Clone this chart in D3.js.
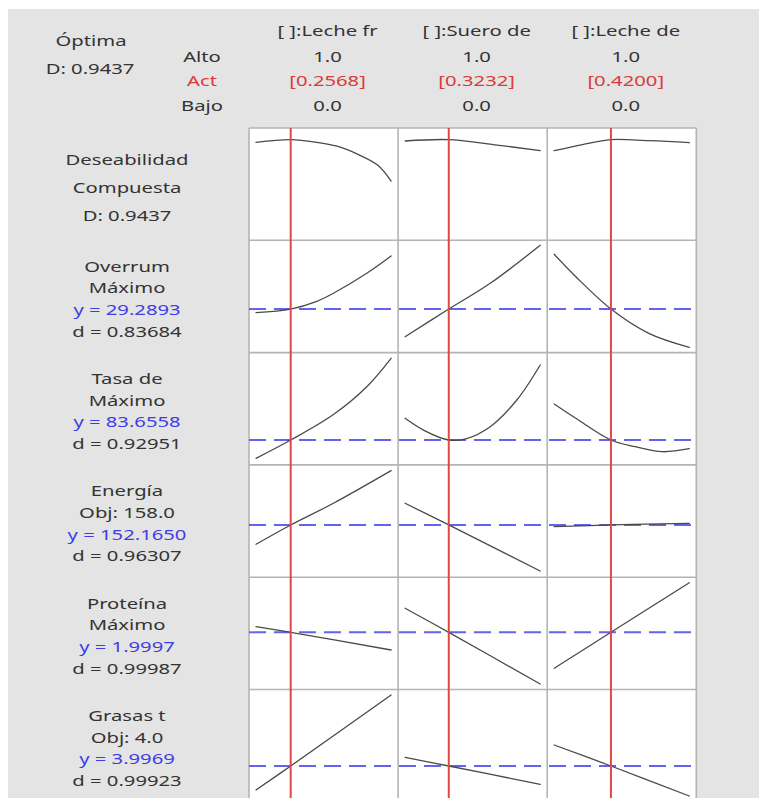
<!DOCTYPE html>
<html>
<head>
<meta charset="utf-8">
<script src="https://cdn.jsdelivr.net/npm/d3@7"></script>
<style>
  html, body { margin: 0; padding: 0; background: #ffffff; }
  svg { display: block; }
  text { font-family: "Noto Sans", "Open Sans", sans-serif; }
</style>
</head>
<body>
<svg id="chart" width="759" height="798"></svg>
<script>
// ---- Factors (mixture components) ----
const factorNames = ["[ ]:Leche fr", "[ ]:Suero de", "[ ]:Leche de"];
const factorHigh = [1.0, 1.0, 1.0];
const factorLow = [0.0, 0.0, 0.0];
const factorCurrent = [0.2568, 0.3232, 0.4200];

// ---- Composite desirability ----
const compositeD = 0.9437;
const compositeDomain = [0, 1];
// trace of D along each component (component proportion, D)
const compositeTrace = [
  [[0, 0.917], [0.2568, 0.9437], [0.45, 0.917], [0.6, 0.878], [0.75, 0.80], [0.9, 0.69], [1, 0.531]],
  [[0, 0.930], [0.3232, 0.9437], [0.65, 0.895], [1, 0.834]],
  [[0, 0.834], [0.21, 0.895], [0.42, 0.9437], [0.7, 0.933], [1, 0.913]]
];

// ---- Responses ----
const responseNames = ["Overrum", "Tasa de", "Energía", "Proteína", "Grasas t"];
const responseGoals = ["Máximo", "Máximo", "Obj: 158.0", "Máximo", "Obj: 4.0"];
const responsePredicted = [29.2893, 83.6558, 152.1650, 1.9997, 3.9969];
const responseDesirability = [0.83684, 0.92951, 0.96307, 0.99987, 0.99923];
const responseDomains = [[20, 44.5], [76, 114.2], [140, 166.3], [1.5, 2.48], [3.0, 6.27]];

// Response traces: one list per response, one series per component
const overrumTrace = [
  [[0, 28.43], [0.2568, 29.2893], [0.45, 31.1], [0.573, 33.0], [0.82, 37.7], [1, 41.75]],
  [[0, 22.80], [0.3232, 29.2893], [0.63, 35.34], [1, 44.27]],
  [[0, 42.15], [0.16, 36.89], [0.42, 29.2893], [0.70, 23.59], [1, 20.3]]
];
const tasaTrace = [
  [[0, 76.95], [0.2568, 83.6558], [0.573, 93.0], [0.82, 103.18], [1, 113.58]],
  [[0, 91.6], [0.136, 87.3], [0.3232, 83.6558], [0.45, 84.1], [0.63, 88.53], [0.827, 98.31], [1, 111.13]],
  [[0, 96.84], [0.16, 91.6], [0.42, 83.6558], [0.6, 81.2], [0.8, 79.37], [1, 80.47]]
];
const energiaTrace = [
  [[0, 147.29], [0.2568, 152.165], [0.573, 157.63], [1, 165.85]],
  [[0, 157.63], [0.3232, 152.165], [1, 140.55]],
  [[0, 151.73], [0.42, 152.165], [1, 152.58]]
];
const proteinaTrace = [
  [[0, 2.0525], [0.2568, 1.9997], [1, 1.8336]],
  [[0, 2.2254], [0.3232, 1.9997], [1, 1.5141]],
  [[0, 1.6616], [0.42, 1.9997], [1, 2.4659]]
];
const grasasTrace = [
  [[0, 3.2445], [0.2568, 3.9969], [1, 6.2228]],
  [[0, 4.2697], [0.3232, 3.9969], [1, 3.4232]],
  [[0, 4.6553], [0.42, 3.9969], [1, 3.0564]]
];
const responseTraces = [overrumTrace, tasaTrace, energiaTrace, proteinaTrace, grasasTrace];

// ---- Layout ----
const W = 759, H = 798;
const gridLeft = 249, colW = 149.1;
const gridTop = 128, rowH = 112.3;
const nCols = factorNames.length;
const nRows = responseNames.length + 1;
const innerPadX = 7, innerPadY = 4;
const labelX = 127;
const textStretch = 1.35;   // wide UI lettering

const cTxt = "#333333", cRed = "#d93a3a", cBlue = "#3d3de6";

const svg = d3.select("#chart");

// grey canvas
svg.append("rect").attr("x", 8).attr("y", 9).attr("width", W - 8).attr("height", H - 9)
  .attr("fill", "#e4e4e4");

const colX0 = i => gridLeft + i * colW;
const rowY0 = r => gridTop + r * rowH;

// column x-scales
const xScales = factorNames.map((_, i) =>
  d3.scaleLinear().domain([factorLow[i], factorHigh[i]])
    .range([colX0(i) + innerPadX, colX0(i) + colW - innerPadX]));

// row y-scales
const yScales = [compositeDomain].concat(responseDomains).map((dom, r) => {
  const pad = r === 0 ? 6 : innerPadY;
  return d3.scaleLinear().domain(dom).range([rowY0(r) + rowH - pad, rowY0(r) + pad]);
});

// panel backgrounds
svg.append("rect").attr("x", gridLeft).attr("y", gridTop)
  .attr("width", colW * nCols).attr("height", rowH * nRows).attr("fill", "#ffffff");

// centred, horizontally widened label
function label(g, x, y, txt, color, size) {
  return g.append("text")
    .attr("transform", `translate(${x},${y}) scale(${textStretch},1)`)
    .attr("text-anchor", "middle")
    .attr("dominant-baseline", "central")
    .attr("font-size", size || 15)
    .attr("fill", color)
    .text(txt);
}

// ---- Header ----
const hdr = svg.append("g");
label(hdr, 91, 40, "Óptima", cTxt);
label(hdr, 90, 68, "D: " + compositeD.toFixed(4), cTxt);
label(hdr, 202, 56, "Alto", cTxt);
label(hdr, 202, 80, "Act", cRed);
label(hdr, 202, 105.5, "Bajo", cTxt);

factorNames.forEach((name, i) => {
  const cx = colX0(i) + colW / 2 + 4;
  label(hdr, cx, 30, name, cTxt);
  label(hdr, cx, 56, factorHigh[i].toFixed(1), cTxt);
  label(hdr, cx, 80, "[" + factorCurrent[i].toFixed(4) + "]", cRed);
  label(hdr, cx, 105.5, factorLow[i].toFixed(1), cTxt);
});

// ---- Row labels ----
const lbl = svg.append("g");
["Deseabilidad", "Compuesta", "D: " + compositeD.toFixed(4)].forEach((t, k) => {
  label(lbl, labelX, rowY0(0) + 31 + k * 28.3, t, cTxt);
});
responseNames.forEach((name, j) => {
  const r = j + 1;
  const lines = [
    [name, cTxt],
    [responseGoals[j], cTxt],
    ["y = " + responsePredicted[j].toFixed(4), cBlue],
    ["d = " + responseDesirability[j].toFixed(5), cTxt]
  ];
  lines.forEach(([t, c], k) => {
    label(lbl, labelX, rowY0(r) + 25.5 + k * 21.7, t, c);
  });
});

// ---- Grid lines ----
const grid = svg.append("g").attr("stroke", "#b4b4b4").attr("stroke-width", 1.6);
for (let i = 0; i <= nCols; i++) {
  grid.append("line").attr("x1", colX0(i)).attr("x2", colX0(i))
    .attr("y1", gridTop).attr("y2", gridTop + rowH * nRows);
}
for (let r = 0; r <= nRows; r++) {
  grid.append("line").attr("x1", gridLeft).attr("x2", gridLeft + colW * nCols)
    .attr("y1", rowY0(r)).attr("y2", rowY0(r));
}

// ---- Predicted-value reference lines (dashed blue) ----
const refs = svg.append("g");
responsePredicted.forEach((v, j) => {
  const y = yScales[j + 1](v);
  refs.append("line").attr("x1", gridLeft).attr("x2", gridLeft + colW * nCols)
    .attr("y1", y).attr("y2", y)
    .attr("stroke", "#5252f0").attr("stroke-opacity", 0.9)
    .attr("stroke-width", 2).attr("stroke-dasharray", "17,8");
});

// ---- Traces ----
const traces = svg.append("g").attr("fill", "none").attr("stroke", "#4a4a4a")
  .attr("stroke-width", 1.3).attr("stroke-linejoin", "round").attr("stroke-linecap", "round");
const allTraces = [compositeTrace].concat(responseTraces);
allTraces.forEach((rowTraces, r) => {
  rowTraces.forEach((pts, i) => {
    const line = d3.line()
      .x(d => xScales[i](d[0]))
      .y(d => yScales[r](d[1]))
      .curve(d3.curveCatmullRom.alpha(0.5));
    traces.append("path").attr("d", line(pts));
  });
});

// ---- Current setting (vertical red lines) ----
const cur = svg.append("g").attr("stroke", "#e04848").attr("stroke-width", 2);
factorCurrent.forEach((v, i) => {
  const x = xScales[i](v);
  cur.append("line").attr("x1", x).attr("x2", x)
    .attr("y1", gridTop).attr("y2", gridTop + rowH * nRows);
});
</script>
</body>
</html>
